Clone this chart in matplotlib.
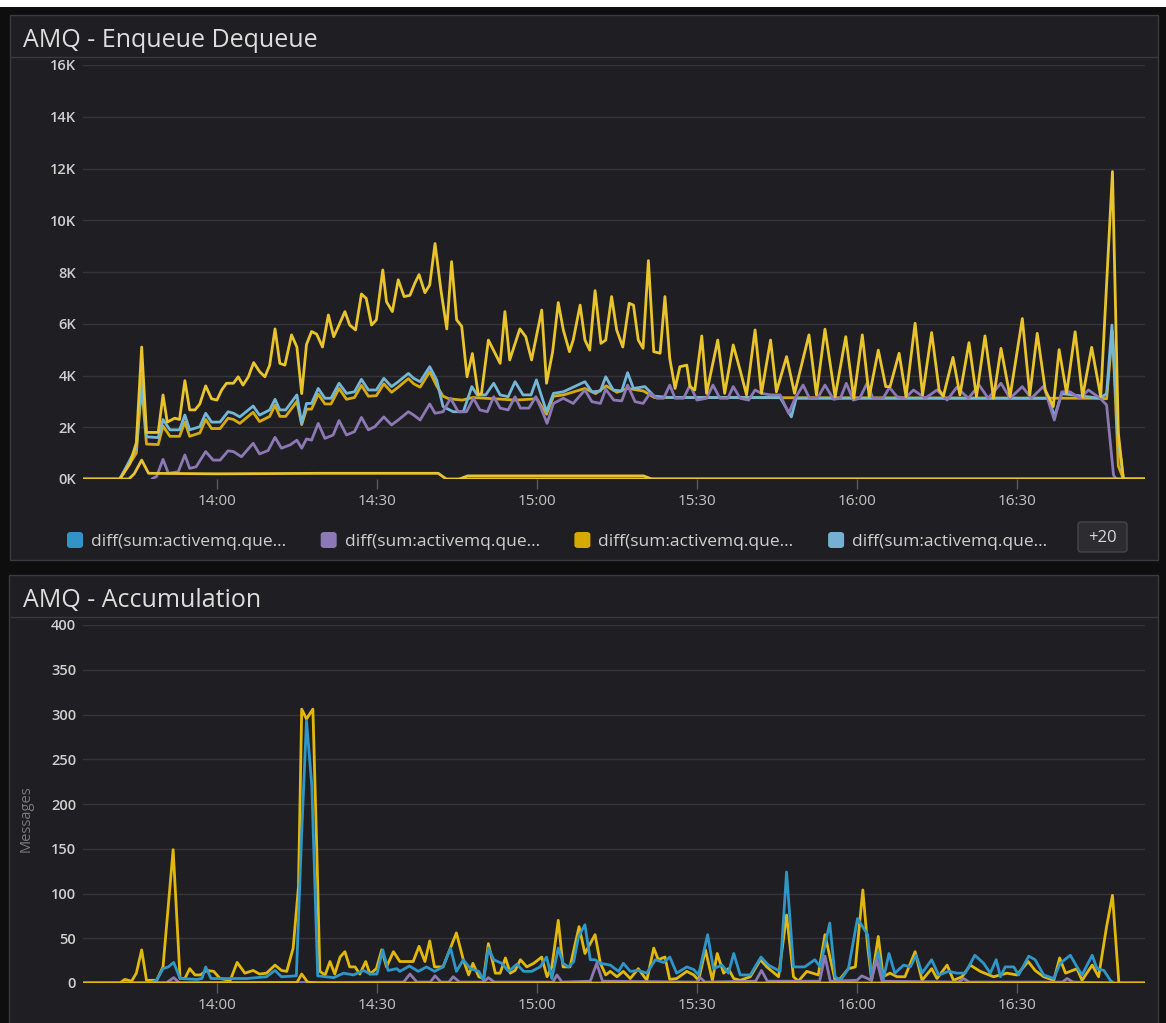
import numpy as np
import matplotlib
matplotlib.use("Agg")
import matplotlib.pyplot as plt
from matplotlib.patches import Rectangle, FancyBboxPatch
from matplotlib.ticker import FixedLocator, FuncFormatter

plt.rcParams['font.family'] = ['Open Sans', 'DejaVu Sans']

# time = minutes after 13:00, top values in thousands of messages
enqueue_top = [(34.9, 0), (41.8, 0), (43.7, 0.6), (44.9, 1.4), (45.9, 5.1), (46.8, 1.8), (49, 1.8), (49.9, 3.25),
               (50.7, 2.2), (52.1, 2.35), (53, 2.3), (54, 3.8), (54.9, 2.67), (55.9, 2.67), (56.8, 2.9), (57.9, 3.6),
               (59, 3.1), (60, 3.05), (60.9, 3.44), (61.8, 3.7), (63.1, 3.7), (64, 3.95), (64.9, 3.63), (65.9, 3.95),
               (66.9, 4.5), (68, 4.15), (69, 3.95), (69.9, 4.4), (70.9, 5.8), (71.8, 4.47), (72.75, 4.4), (74, 5.57),
               (75, 5.1), (75.9, 3.3), (76.8, 5.2), (77.75, 5.7), (78.7, 5.6), (79.8, 5.1), (80.9, 6.34), (81.9, 5.5),
               (82.9, 5.95), (84, 6.47), (84.9, 5.95), (86, 5.76), (87.1, 7.15), (88, 6.98), (89, 5.95), (89.9, 6.15),
               (91.1, 8.08), (91.8, 6.85), (92.9, 6.47), (94, 7.7), (95.1, 7.05), (96.2, 7.1), (97.1, 7.56), (97.9, 7.9),
               (99, 7.2), (99.9, 7.5), (100.9, 9.1), (102, 7.3), (103.1, 5.8), (104, 8.4), (104.95, 6.15), (105.9, 5.9),
               (106.9, 3.95), (107.9, 4.85), (109, 3.25), (109.6, 3.3), (110.9, 5.37), (113.1, 4.47), (114, 6.47),
               (114.9, 4.6), (116.8, 5.8), (117.9, 5.5), (119, 4.6), (120.9, 6.53), (121.8, 3.7), (122.95, 4.92),
               (124, 6.82), (124.95, 5.76), (126.1, 4.92), (126.8, 5.37), (128.1, 6.72), (129, 5.37), (129.9, 4.98),
               (130.9, 7.28), (132, 5.24), (132.9, 5.37), (134, 7.05), (134.95, 5.76), (136.1, 5.1), (137.3, 6.79),
               (138.1, 6.72), (139, 5.37), (139.9, 5.05), (140.9, 8.44), (141.9, 4.92), (143.1, 4.86), (144, 7.05),
               (144.9, 4.66), (145.9, 3.5), (146.8, 4.34), (148.1, 4.4), (148.7, 3.57), (149.6, 3.44), (150.9, 5.53),
               (151.8, 3.31), (153.9, 5.37), (155.2, 3.31), (156.8, 5.18), (158.1, 4.2), (159.3, 3.25), (160.9, 5.76),
               (162.1, 3.31), (163.8, 5.37), (164.9, 3.37), (166.8, 4.73), (168.3, 3.31), (171, 5.57), (172.4, 3.25),
               (174, 5.79), (175.9, 3.18), (177.9, 5.5), (179.4, 3.12), (181, 5.57), (182.3, 3.18), (184, 4.98),
               (185.4, 3.57), (186.2, 3.57), (187.9, 4.86), (189.2, 3.18), (190.9, 6.02), (192.3, 3.25), (194, 5.66),
               (195.4, 3.44), (196.2, 3.2), (198, 4.7), (199.3, 3.25), (201, 5.27), (202.4, 3.18), (204, 5.53),
               (205.6, 3.12), (207, 5.05), (208.7, 3.18), (211, 6.2), (212.4, 3.25), (213.8, 5.63), (215.3, 3.44),
               (216.8, 2.8), (217.9, 5.0), (219.3, 3.31), (220.9, 5.69), (222.3, 3.18), (224, 5.09), (225.7, 3.18),
               (226.8, 7.56), (227.9, 11.88), (229, 1.77), (229.95, 0), (234, 0)]

cyan_top = [(41.8, 0), (44.9, 1.2), (45.9, 4.0), (46.8, 1.63), (49, 1.6), (49.9, 2.3), (51.2, 1.9), (53, 1.9),
            (54, 2.47), (54.9, 1.9), (56.8, 2.02), (57.9, 2.54), (59, 2.2), (60.6, 2.2), (62.1, 2.6), (63.1, 2.54),
            (64.3, 2.4), (66.8, 2.82), (68, 2.47), (69.9, 2.67), (70.9, 3.08), (71.8, 2.67), (72.9, 2.67), (75, 3.25),
            (75.9, 2.15), (76.8, 2.92), (77.75, 2.92), (79, 3.5), (80.25, 3.12), (81.4, 3.12), (82.9, 3.7),
            (84.3, 3.31), (85.8, 3.37), (87.1, 3.85), (88.4, 3.44), (89.9, 3.44), (91.3, 3.89), (92.75, 3.57),
            (94, 3.76), (95.9, 4.08), (96.9, 3.89), (98.1, 3.76), (99.9, 4.34), (101.2, 3.83), (102.4, 2.8),
            (104.3, 2.6), (106.2, 2.6), (107.8, 3.57), (108.8, 3.25), (110.4, 3.25), (111.9, 3.7), (113.1, 3.25),
            (114.6, 3.18), (115.9, 3.76), (117.4, 3.25), (118.9, 3.25), (119.9, 3.83), (121.8, 2.6), (123.1, 3.31),
            (124.95, 3.37), (129, 3.76), (130.3, 3.37), (131.9, 3.4), (132.9, 3.95), (134.3, 3.44), (135.9, 3.4),
            (137, 4.11), (138.1, 3.5), (140.25, 3.57), (142, 3.2), (145, 3.15), (165.6, 3.15), (167.7, 2.4),
            (168.6, 3.12), (216, 3.12), (217, 2.4), (218.4, 3.3), (225.6, 3.12), (226.8, 3.3), (227.8, 5.95),
            (229, 1.5), (229.95, 0)]

gold_top = [(41.8, 0), (44.9, 1.0), (45.9, 3.6), (46.8, 1.35), (49, 1.33), (49.9, 2.05), (51.2, 1.65), (53, 1.65),
            (54, 2.2), (54.9, 1.65), (56.8, 1.78), (57.9, 2.3), (59, 1.95), (60.6, 1.95), (62.1, 2.35), (63.1, 2.3),
            (64.3, 2.15), (66.8, 2.58), (68, 2.22), (69.9, 2.42), (70.9, 2.85), (71.8, 2.42), (72.9, 2.42), (75, 3.0),
            (75.9, 2.1), (76.8, 2.7), (77.75, 2.7), (79, 3.28), (80.25, 2.9), (81.4, 2.9), (82.9, 3.5), (84.3, 3.08),
            (85.8, 3.15), (87.1, 3.62), (88.4, 3.2), (89.9, 3.22), (91.3, 3.68), (92.75, 3.35), (94, 3.55),
            (95.9, 3.88), (96.9, 3.68), (98.1, 3.55), (99.9, 4.15), (101.2, 3.6), (102.4, 3.2), (103.5, 3.1),
            (106, 3.05), (108, 3.15), (112, 3.1), (116, 3.05), (120, 3.1), (121.8, 2.5), (123.1, 3.2), (125, 3.25),
            (129, 3.5), (131, 3.3), (133, 3.6), (135, 3.35), (137, 3.5), (140, 3.4), (142, 3.15), (225.6, 3.12),
            (226.8, 3.1), (227.9, 5.7), (229, 0.5), (229.95, 0)]

purple_top = [(47.8, 0), (48.7, 0.1), (49.9, 0.76), (50.9, 0.22), (52.75, 0.28), (54, 0.93), (54.9, 0.41),
              (56.1, 0.47), (57.9, 1.06), (59.3, 0.73), (60.6, 0.73), (62.1, 1.09), (63.1, 1.06), (64.6, 0.86),
              (66.8, 1.38), (68, 0.97), (69.6, 1.1), (70.9, 1.61), (72.1, 1.19), (73.75, 1.32), (75, 1.5),
              (75.9, 1.19), (76.8, 1.55), (77.75, 1.5), (79, 2.15), (80.25, 1.57), (81.8, 1.7), (82.9, 2.26),
              (84.3, 1.7), (85.8, 1.83), (87.1, 2.38), (88.4, 1.9), (89.6, 2.02), (91.3, 2.4), (92.75, 2.09),
              (94, 2.28), (95.9, 2.6), (96.9, 2.47), (98.1, 2.28), (99.9, 2.9), (100.9, 2.54), (102.4, 2.6),
              (103.8, 3.12), (105.25, 2.6), (106.8, 2.6), (108.1, 3.12), (109.3, 2.67), (110.7, 2.6), (111.9, 3.18),
              (113.1, 2.74), (114.6, 2.67), (115.9, 3.18), (116.9, 2.74), (118.5, 2.74), (119.8, 3.18), (120.9, 2.67),
              (121.9, 2.15), (123.1, 2.92), (124.95, 3.12), (126.8, 2.92), (129, 3.44), (130.3, 2.99), (131.9, 2.92),
              (132.9, 3.47), (134.4, 3.05), (135.9, 3.02), (137, 3.63), (138.4, 2.99), (139.9, 2.92), (141.2, 3.31),
              (142.5, 3.12), (143.75, 3.12), (144.9, 3.63), (145.9, 3.12), (147.5, 3.12), (148.7, 3.63), (150, 3.05),
              (151.8, 3.12), (153, 3.63), (154.3, 3.12), (155.8, 3.12), (156.8, 3.57), (158.1, 3.12), (159.7, 3.05),
              (160.9, 3.44), (162.1, 3.31), (163.8, 3.25), (165.6, 3.25), (167.2, 2.54), (168.4, 3.12), (169.9, 3.63),
              (171.1, 3.12), (172.6, 3.12), (174, 3.63), (175.6, 3.08), (176.9, 3.12), (178, 3.7), (179.3, 3.05),
              (180.5, 3.12), (181.9, 3.7), (183, 3.12), (184.9, 3.12), (186.1, 3.54), (187.5, 3.18), (189, 3.12),
              (190.6, 3.44), (192.8, 3.12), (195, 3.44), (196.9, 3.05), (198.7, 3.54), (200.9, 3.12), (202.9, 3.63),
              (204.6, 3.12), (207, 3.7), (208.7, 3.12), (211, 3.57), (212.7, 3.12), (215, 3.59), (217, 2.28),
              (218.4, 3.37), (219.9, 3.37), (221.8, 3.12), (223.4, 3.44), (225.6, 3.12), (226.8, 2.86),
              (228.1, 0.15), (228.6, 0)]

low_top_a = [(34.9, 0), (43.5, 0), (44.5, 0.2), (45.9, 0.73), (47.2, 0.22), (60, 0.2), (80, 0.22), (101.5, 0.22),
             (103, 0), (234, 0)]
low_top_b = [(105.5, 0), (107, 0.12), (140, 0.12), (141.5, 0), (234, 0)]

# accumulation, messages
accum_yellow = [(34.9, 0), (41.8, 0), (42.75, 4), (44, 2), (44.9, 11), (45.9, 37), (46.8, 3), (48.7, 3), (49.9, 18),
                (51.8, 149), (53.1, 5), (54, 5), (54.9, 16), (55.9, 9), (56.9, 9), (58.1, 14), (59.4, 13), (60.6, 5),
                (62.5, 3), (63.8, 23), (65.25, 11), (66.8, 14), (68, 10), (69.3, 11), (70.9, 20), (72.1, 14),
                (73.1, 13), (74.3, 39), (75.3, 108), (75.9, 306), (76.8, 295), (78, 306), (78.75, 145), (79.3, 13),
                (80.3, 9), (81.2, 24), (82.1, 10), (83.1, 29), (84, 35), (84.9, 18), (85.9, 18), (86.8, 10),
                (87.9, 24), (88.7, 10), (89.9, 16), (90.9, 37), (91.8, 18), (93.1, 35), (94.3, 24), (96.8, 24),
                (97.9, 41), (99, 24), (99.9, 47), (100.8, 18), (102.4, 18), (104.9, 56), (106.2, 26), (107.2, 9),
                (108, 22), (109.1, 7), (110, 5), (110.9, 44), (112.2, 11), (113.1, 11), (114.1, 28), (115, 11),
                (115.9, 14), (116.9, 26), (118.1, 18), (119.4, 22), (120.9, 29), (121.9, 7), (122.8, 18), (124, 70),
                (124.9, 18), (126.2, 18), (127.9, 63), (129, 33), (130.9, 54), (131.9, 22), (132.9, 9), (133.75, 13),
                (135, 7), (136.2, 13), (137.5, 5), (139, 16), (140.6, 3), (141.9, 39), (142.75, 26), (144, 29),
                (144.9, 4), (146.2, 5), (148.1, 13), (149.4, 9), (150.3, 3), (151.6, 37), (152.9, 3), (153.8, 33),
                (155, 11), (155.9, 16), (156.9, 5), (158.1, 3), (160, 7), (161.9, 26), (163.1, 18), (165.3, 7),
                (166.8, 76), (168.1, 7), (169, 2), (170.6, 13), (172.75, 9), (174, 54), (174.9, 30), (175.9, 3),
                (176.9, 5), (178.4, 16), (179.7, 18), (181.1, 104), (182, 41), (182.75, 3), (184, 52), (184.9, 7),
                (186.2, 11), (187.5, 7), (189, 7), (190.9, 35), (192.2, 3), (194, 16), (195, 5), (196.9, 20),
                (198.1, 3), (199.7, 7), (201.25, 20), (203.1, 13), (205.6, 7), (208.1, 11), (210, 9), (212.1, 24),
                (213.4, 14), (215, 7), (216.9, 3), (218, 28), (219.1, 11), (221.25, 16), (222.2, 3), (224.1, 20),
                (225.3, 7), (226.8, 63), (227.9, 98), (229.1, 0), (234, 0)]

accum_blue = [(47.5, 0), (48.7, 3), (49.9, 16), (50.9, 18), (51.9, 23), (53.1, 5), (56.2, 4), (57.2, 5), (57.9, 18),
              (58.9, 5), (63.1, 5), (65.6, 5), (69.3, 7), (70.9, 14), (72.1, 7), (74.9, 8), (75.9, 168), (76.8, 293),
              (77.8, 220), (78.9, 8), (81.9, 6), (83.75, 11), (85.6, 9), (87.5, 14), (88.75, 10), (90, 10),
              (91.1, 37), (92.1, 14), (93.75, 16), (94.3, 13), (96.1, 19), (97.75, 13), (99.3, 18), (100.8, 13),
              (102.4, 18), (103.8, 39), (104.9, 13), (106.2, 26), (107.5, 16), (109.1, 13), (110, 3), (110.9, 39),
              (111.9, 26), (113.4, 22), (114.7, 13), (116.25, 21), (117.5, 13), (119, 13), (120.6, 18), (121.8, 29),
              (122.8, 5), (124, 39), (124.9, 22), (125.9, 18), (126.9, 24), (127.8, 52), (129, 65), (130, 26),
              (130.9, 26), (131.9, 22), (133.75, 20), (135.3, 13), (136.2, 22), (137.5, 13), (139, 14), (140.6, 11),
              (142.2, 26), (143.75, 23), (144.9, 29), (146.2, 11), (148.1, 18), (149.4, 15), (150.3, 9), (152, 54),
              (153.1, 16), (154.7, 20), (155.9, 11), (156.9, 33), (158.1, 9), (160, 9), (162, 29), (163.4, 20),
              (165.6, 13), (166.8, 124), (168.1, 18), (170.2, 18), (172.1, 26), (173.1, 18), (174.9, 67), (175.9, 7),
              (176.9, 3), (178.4, 16), (180.1, 72), (182, 54), (182.75, 7), (184, 35), (184.9, 3), (186, 33),
              (187.1, 11), (188.75, 20), (190, 18), (191.1, 31), (192.2, 11), (194, 26), (195.3, 9), (197.2, 13),
              (198.75, 11), (200.3, 11), (202.1, 31), (203.75, 22), (205, 11), (206.1, 26), (206.9, 7), (207.8, 18),
              (209.4, 18), (210.3, 9), (212.2, 30), (213.4, 26), (215, 9), (216.9, 5), (218.1, 22), (220, 31),
              (221.25, 18), (222.2, 9), (224.1, 31), (225, 16), (226.3, 14), (227.5, 3), (228.1, 0)]

accum_purple = [(34.9, 0), (50.5, 0), (51.9, 6), (53, 0), (95, 1), (96.2, 10), (97.5, 1), (100, 1), (100.9, 8),
                (102, 1), (103.5, 1), (104.3, 7), (105.5, 1), (110, 1), (110.9, 6), (112, 1), (123, 1), (123.75, 9),
                (124.7, 1), (130, 2), (131.2, 22), (132.3, 2), (150, 1), (150.6, 6), (151.5, 1), (161, 2),
                (162.1, 14), (163.2, 2), (173, 2), (174, 30), (175, 2), (180, 3), (180.9, 8), (182.7, 3), (183.7, 26),
                (184.7, 2), (199, 1), (200, 5), (201, 1), (218.5, 1), (219.4, 5), (220.5, 1), (228, 0)]

accum_low = [(34.9, 0), (75, 0.5), (75.9, 10), (77, 1), (79, 0), (234, 0)]

time_ticks = [60, 90, 120, 150, 180, 210]
top_yticks = [0, 2, 4, 6, 8, 10, 12, 14, 16]
bottom_yticks = [0, 50, 100, 150, 200, 250, 300, 350, 400]
legend_labels = ["diff(sum:activemq.que...", "diff(sum:activemq.que...",
                 "diff(sum:activemq.que...", "diff(sum:activemq.que..."]
legend_colors = ["#3193c6", "#8c78b4", "#d6aa00", "#73b0d1"]

W, H = 1166, 1023
BG = "#1f1f23"
GRID = "#34343a"
YEL = "#e9c42c"
GOLD = "#d6aa0f"


def box(x0, y0, x1, y1):
    return [x0 / W, 1 - y1 / H, (x1 - x0) / W, (y1 - y0) / H]


fig = plt.figure(figsize=(W / 100, H / 100), dpi=100, facecolor="#0e0e0f")

# white strip on top and panels (kept behind the axes)
fig.patches.append(Rectangle((0, 1 - 7 / H), 1, 7 / H, transform=fig.transFigure,
                             facecolor="white", edgecolor="none", zorder=-10))
for (x0, y0, x1, y1) in [(10, 15, 1158, 560), (9, 575, 1158, 1030)]:
    fig.patches.append(Rectangle((x0 / W, 1 - y1 / H), (x1 - x0) / W, (y1 - y0) / H,
                                 transform=fig.transFigure, facecolor=BG, edgecolor="#3a3a3f", lw=1,
                                 zorder=-10))
for ysep in [57, 617]:
    fig.add_artist(plt.Line2D([11 / W, 1157 / W], [1 - ysep / H] * 2, color="#38383d", lw=1, zorder=-5))

fig.text(23 / W, 1 - 47 / H, "AMQ - Enqueue Dequeue", fontsize=18, color="#dedede")
fig.text(23 / W, 1 - 607 / H, "AMQ - Accumulation", fontsize=18, color="#dedede")


def minute_label(v, pos):
    return f"{13 + int(v) // 60}:{int(v) % 60:02d}"


def style(ax, yticks, yfmt):
    ax.set_facecolor("none")
    ax.set_zorder(2)
    for s in ax.spines.values():
        s.set_visible(False)
    ax.set_xlim(34.9, 234)
    ax.xaxis.set_major_locator(FixedLocator(time_ticks))
    ax.xaxis.set_major_formatter(FuncFormatter(minute_label))
    ax.yaxis.set_major_locator(FixedLocator(yticks))
    ax.yaxis.set_major_formatter(FuncFormatter(yfmt))
    ax.grid(axis="y", color=GRID, lw=1)
    ax.set_axisbelow(True)
    ax.tick_params(axis="y", length=0, pad=5, labelsize=10.5, labelcolor="#cfcfcf")
    ax.tick_params(axis="x", length=7, width=1, color="#5a5a5f", pad=4, labelsize=11, labelcolor="#c4c4c4")
    for lab in ax.get_yticklabels():
        lab.set_fontweight("semibold")


def draw(ax, series, color, lw=2.0):
    arr = np.array(series, dtype=float)
    ax.plot(arr[:, 0], arr[:, 1], color=color, lw=lw, solid_joinstyle="round", solid_capstyle="round")


ax1 = fig.add_axes(box(83, 65, 1145, 479))
ax1.set_ylim(0, 16)
style(ax1, top_yticks, lambda v, p: f"{int(v)}K")
draw(ax1, gold_top, GOLD)
draw(ax1, cyan_top, "#73b6d6")
draw(ax1, purple_top, "#8c78b4")
draw(ax1, low_top_b, YEL)
draw(ax1, low_top_a, YEL)
draw(ax1, enqueue_top, YEL)

ax2 = fig.add_axes(box(83, 625, 1145, 983))
ax2.set_ylim(0, 400)
style(ax2, bottom_yticks, lambda v, p: f"{int(v)}")
draw(ax2, accum_yellow, "#e3b80c")
draw(ax2, accum_blue, "#2f96c8")
draw(ax2, accum_purple, "#8f77b6")
draw(ax2, accum_low, "#e3b80c")
fig.text(26 / W, 1 - 819 / H, "Messages", rotation=90, ha="center", va="center",
         fontsize=10.5, color="#7a7a7e")

# legend
for i, (lab, col) in enumerate(zip(legend_labels, legend_colors)):
    x0 = 67 + i * 253.7
    fig.patches.append(FancyBboxPatch((x0 / W, 1 - 548 / H), 16 / W, 16 / H,
                                      boxstyle="round,pad=0,rounding_size=0.003",
                                      transform=fig.transFigure, facecolor=col, edgecolor="none"))
    fig.text((x0 + 24) / W, 1 - 546 / H, lab, fontsize=12.5, color="#cfcfcf")
fig.patches.append(FancyBboxPatch((1078 / W, 1 - 552 / H), 49 / W, 30 / H,
                                  boxstyle="round,pad=0,rounding_size=0.003",
                                  transform=fig.transFigure, facecolor="#2c2c31", edgecolor="#45454b", lw=1))
fig.text(1102.5 / W, 1 - 538 / H, "+20", fontsize=12, color="#d8d8d8", ha="center", va="center")

fig.savefig("out.png", dpi=100, facecolor=fig.get_facecolor())
